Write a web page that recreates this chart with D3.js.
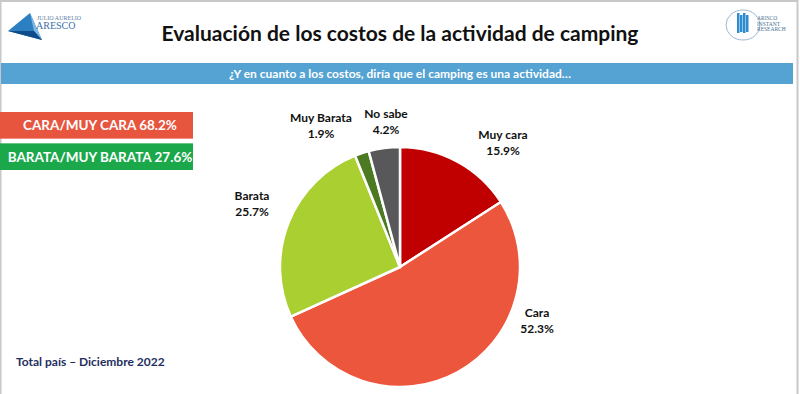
<!DOCTYPE html>
<html>
<head>
<meta charset="utf-8">
<script src="https://cdn.jsdelivr.net/npm/d3@7"></script>
<style>
  body { margin: 0; background: #fff; }
  svg { display: block; font-family: Lato, "Open Sans", sans-serif; }
</style>
</head>
<body>
<svg id="chart" width="800" height="394"></svg>
<script>
// valores
var categories = ["Muy cara", "Cara", "Barata", "Muy Barata", "No sabe"];
var values = [15.9, 52.3, 25.7, 1.9, 4.2];
var colors = ["#C00000", "#EC563C", "#A9CF31", "#4C7A22", "#58585A"];
// totales agrupados (cajas de la izquierda)
var groupLabels = ["CARA/MUY CARA", "BARATA/MUY BARATA"];
var groupValues = [68.2, 27.6];
var groupColors = ["#E8553F", "#1BA84B"];
// donde va cada etiqueta, relativo al centro del pie
var labelOffset = [[103, -128], [137, 50], [-148, -67], [-79, -145], [-14, -149]];

var svg = d3.select("#chart");
var W = 800, H = 394;

// marco gris
svg.append("rect")
    .attr("x", 0.5).attr("y", 1)
    .attr("width", W - 3).attr("height", H + 5)
    .style("fill", "none")
    .style("stroke", "#c8c8c8")
    .style("stroke-width", 2);

// titulo
svg.append("text")
    .attr("x", 400).attr("y", 41)
    .attr("text-anchor", "middle")
    .style("font-size", "21px")
    .style("font-weight", "bold")
    .style("fill", "#111")
    .text("Evaluación de los costos de la actividad de camping");

// banda azul con la pregunta
svg.append("rect")
    .attr("x", 1).attr("y", 63)
    .attr("width", 792).attr("height", 21)
    .style("fill", "#55A3D3");
svg.append("text")
    .attr("x", 400).attr("y", 78)
    .attr("text-anchor", "middle")
    .style("font-size", "12px")
    .style("font-weight", "bold")
    .style("fill", "#fff")
    .text("¿Y en cuanto a los costos, diría que el camping es una actividad…");

// logo izquierdo (aproximado)
var logoL = svg.append("g");
logoL.append("path")
    .attr("d", "M8,31 L30,13 L42,40 Z")
    .style("fill", "#2C7FC0");
logoL.append("path")
    .attr("d", "M30,13 L42,40 L34,31 Z")
    .style("fill", "#7DB9E3");
logoL.append("path")
    .attr("d", "M8,31 L34,31 L42,40 Z")
    .style("fill", "#0F4C8A");
logoL.append("text")
    .attr("x", 37).attr("y", 20)
    .style("font-family", "'Liberation Serif', serif")
    .style("font-size", "6px")
    .style("fill", "#5b7fa6")
    .text("JULIO AURELIO");
logoL.append("text")
    .attr("x", 36).attr("y", 29)
    .style("font-family", "'Liberation Serif', serif")
    .style("font-size", "10px")
    .style("fill", "#3a6fa8")
    .text("ARESCO");

// logo derecho (aproximado)
var logoR = svg.append("g");
logoR.append("ellipse")
    .attr("cx", 743).attr("cy", 25).attr("rx", 17).attr("ry", 15)
    .style("fill", "none").style("stroke", "#9ab7d3").style("stroke-width", 1);
d3.range(4).forEach(function (i) {
    logoR.append("rect")
        .attr("x", 737 + i * 3).attr("y", 13 + (i % 2) * 2)
        .attr("width", 2.5).attr("height", 20 - (i % 2) * 3)
        .style("fill", "#2D8BD0");
});
["ARISCO", "INSTANT", "RESEARCH"].forEach(function (t, i) {
    logoR.append("text")
        .attr("x", 757).attr("y", 20 + i * 5.5)
        .style("font-family", "'Liberation Serif', serif")
        .style("font-size", "5.5px")
        .style("fill", "#4a6f95")
        .text(t);
});

// cajas de totales
var boxY = d3.scaleBand().domain(groupLabels).range([112, 170]).paddingInner(0.15);
svg.selectAll(".gbox").data(groupLabels).enter().append("rect")
    .attr("x", 0)
    .attr("y", function (d) { return boxY(d); })
    .attr("width", 193)
    .attr("height", boxY.bandwidth())
    .style("fill", function (d, i) { return groupColors[i]; });
svg.selectAll(".gtext").data(groupLabels).enter().append("text")
    .attr("x", 100)
    .attr("y", function (d) { return boxY(d) + boxY.bandwidth() / 2 + 5; })
    .attr("text-anchor", "middle")
    .style("font-size", "13.5px")
    .style("font-weight", "bold")
    .style("fill", "#fff")
    .text(function (d, i) { return d + " " + groupValues[i].toFixed(1) + "%"; });

// pie
var cx = 400, cy = 267, r = 120;
var pie = d3.pie().sort(null).value(function (d) { return d; });
var arc = d3.arc().innerRadius(0).outerRadius(r);
var arcs = pie(values);

var g = svg.append("g").attr("transform", "translate(" + cx + "," + cy + ")");
g.selectAll("path").data(arcs).enter().append("path")
    .attr("d", arc)
    .style("fill", function (d, i) { return colors[i]; })
    .style("stroke", "#fff")
    .style("stroke-width", 2.5)
    .style("stroke-linejoin", "round");

var labels = g.selectAll(".lbl").data(arcs).enter().append("text")
    .attr("text-anchor", "middle")
    .style("font-size", "12px")
    .style("font-weight", "bold")
    .style("fill", "#111")
    .attr("transform", function (d, i) {
        return "translate(" + labelOffset[i][0] + "," + labelOffset[i][1] + ")";
    });
labels.append("tspan").attr("x", 0).attr("dy", 0)
    .text(function (d, i) { return categories[i]; });
labels.append("tspan").attr("x", 0).attr("dy", 16)
    .text(function (d, i) { return values[i].toFixed(1) + "%"; });

// pie de pagina
svg.append("text")
    .attr("x", 16).attr("y", 366)
    .style("font-size", "12px")
    .style("font-weight", "bold")
    .style("fill", "#1F2F5E")
    .text("Total país – Diciembre 2022");
</script>
</body>
</html>
